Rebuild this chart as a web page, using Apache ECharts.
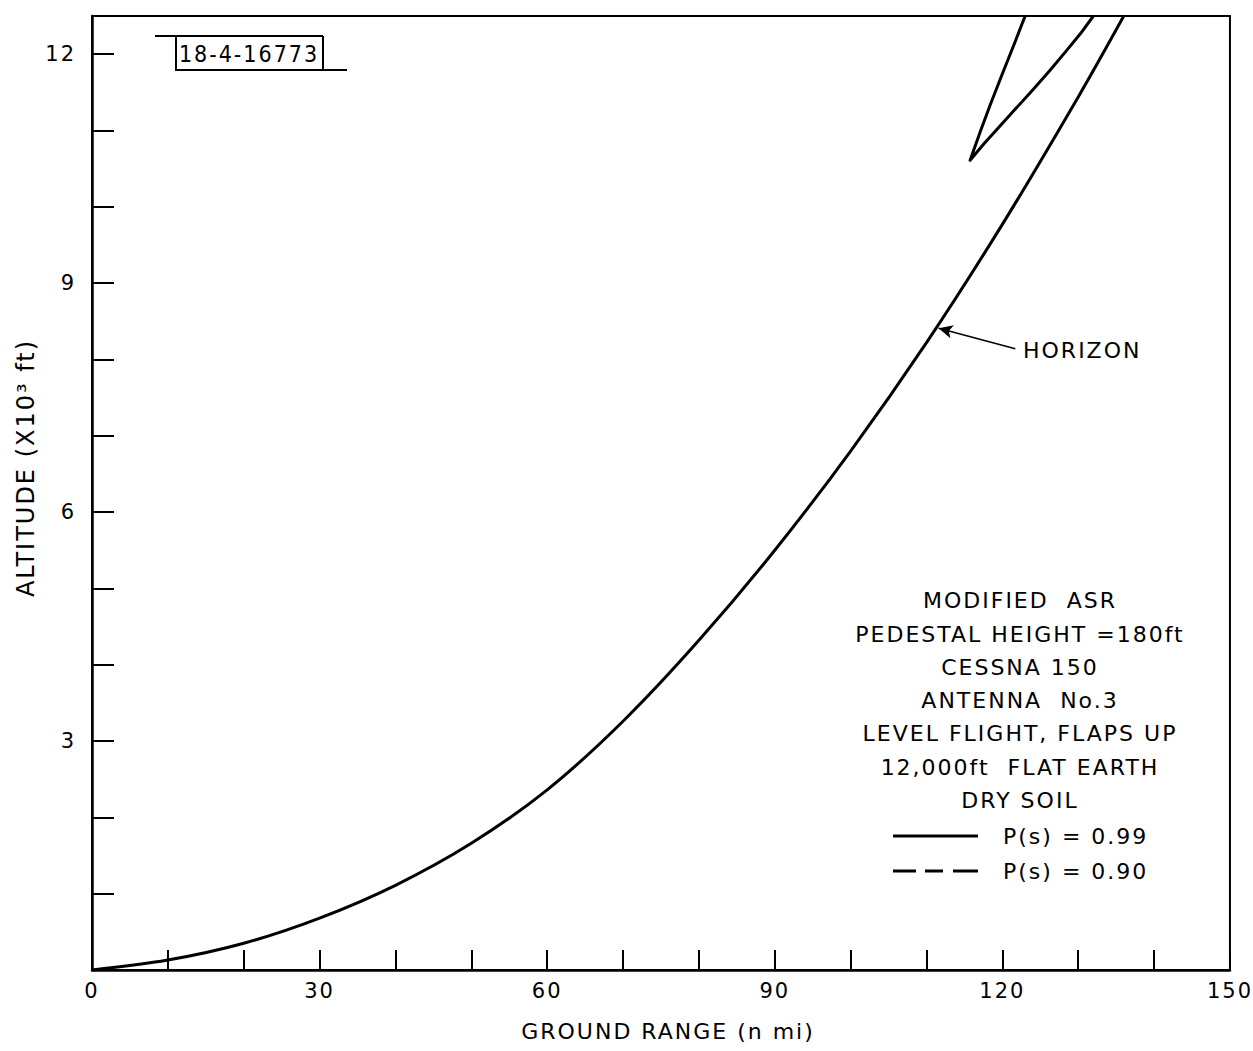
<!DOCTYPE html>
<html>
<head>
<meta charset="utf-8">
<script src="https://cdn.jsdelivr.net/npm/echarts@6/dist/echarts.min.js"></script>
<style>
html,body{margin:0;padding:0;background:#fff;}
#chart{width:1253px;height:1051px;}
#chart text{letter-spacing:2px;}
</style>
</head>
<body>
<div id="chart"></div>
<script>
// ---- data (ground range in n mi, altitude in 10^3 ft) ----
var horizonRange = [0, 10, 20, 30, 40, 50, 60, 70, 80, 90, 100, 110, 120, 130, 136];
var horizonAlt   = [0, 0.13, 0.35, 0.68, 1.11, 1.66, 2.36, 3.26, 4.32, 5.50, 6.80, 8.22, 9.77, 11.44, 12.5];
var lobe99Range  = [123.0, 121.67, 119.91, 118.38, 117.07, 115.75, 117.6, 119.6, 121.8, 124.0, 126.2, 128.4, 130.3, 132.0];
var lobe99Alt    = [12.5, 12.16, 11.72, 11.33, 10.98, 10.61, 10.83, 11.05, 11.29, 11.53, 11.78, 12.04, 12.27, 12.5];
var lobe90Range  = [];
var lobe90Alt    = [];
var xTickLabels  = [0, 30, 60, 90, 120, 150];
var yTickLabels  = [3, 6, 9, 12];
var horizonArrowFrom = [121.7, 8.14];
var horizonArrowTo   = [111.6, 8.41];
var notes = ['MODIFIED  ASR', 'PEDESTAL HEIGHT =180ft', 'CESSNA 150', 'ANTENNA  No.3', 'LEVEL FLIGHT, FLAPS UP', '12,000ft  FLAT EARTH', 'DRY SOIL'];
var figId = '18-4-16773';

function pairs(xs, ys){ return xs.map(function(x,i){ return [x, ys[i]]; }); }

var FONT = 'DejaVu Sans';
var chart = echarts.init(document.getElementById('chart'), null, {renderer:'svg'});

var graphics = [];
var noteY = [600, 634, 667, 700, 733, 767, 800];
notes.forEach(function(t, i){
  graphics.push({type:'text', x:1020, y:noteY[i],
    style:{text:t, fill:'#000', font:'22px "'+FONT+'"', textAlign:'center', textVerticalAlign:'middle'}});
});
// figure id box
graphics.push({type:'polyline', shape:{points:[[155,36],[323,36]]}, style:{stroke:'#000', lineWidth:2}});
graphics.push({type:'polyline', shape:{points:[[176,36],[176,70],[347,70]]}, style:{stroke:'#000', lineWidth:2}});
graphics.push({type:'polyline', shape:{points:[[323,36],[323,70]]}, style:{stroke:'#000', lineWidth:2}});
graphics.push({type:'text', x:249, y:54, style:{text:figId, fill:'#000', font:'23px "DejaVu Sans Condensed", "'+FONT+'"', textAlign:'center', textVerticalAlign:'middle'}});

var solidIcon  = 'path://M0,0h85v3h-85z';
var dashedIcon = 'path://M0,0h23v3h-23z M32,0h18v3h-18z M60,0h25v3h-25z';

var option = {
  animation:false,
  backgroundColor:'#fff',
  textStyle:{fontFamily:FONT, color:'#000'},
  grid:{left:92, right:21, top:16, bottom:81, show:true, borderColor:'#000', borderWidth:2},
  xAxis:{
    type:'value', min:0, max:150, interval:10,
    name:'GROUND RANGE (n mi)', nameLocation:'middle', nameGap:50,
    nameTextStyle:{fontSize:22, color:'#000', fontFamily:FONT, padding:[0,0,0,14]},
    axisLine:{show:true, onZero:false, lineStyle:{color:'#000', width:2.5}},
    axisTick:{show:true, inside:true, length:20, lineStyle:{color:'#000', width:2}},
    axisLabel:{fontSize:21, color:'#000', margin:10, fontFamily:FONT,
      formatter:function(v){ return xTickLabels.indexOf(v) >= 0 ? String(v) : ''; }},
    splitLine:{show:false}
  },
  yAxis:{
    type:'value', min:0, max:12.5, interval:1,
    name:'ALTITUDE (X10³ ft)', nameLocation:'middle', nameGap:42, nameRotate:90,
    nameTextStyle:{fontSize:24, color:'#000', fontFamily:FONT, padding:[0,0,0,50]},
    axisLine:{show:true, onZero:false, lineStyle:{color:'#000', width:2.5}},
    axisTick:{show:true, inside:true, length:22, lineStyle:{color:'#000', width:2}},
    axisLabel:{fontSize:21, color:'#000', margin:16, fontFamily:FONT, showMaxLabel:false,
      formatter:function(v){ return yTickLabels.indexOf(v) >= 0 ? String(v) : ''; }},
    splitLine:{show:false}
  },
  legend:{
    data:[{name:'P(s) = 0.99', icon:solidIcon}, {name:'P(s) = 0.90', icon:dashedIcon}],
    orient:'vertical', left:888, top:819, itemWidth:85, itemHeight:3, itemGap:11,
    itemStyle:{color:'#000', borderWidth:0},
    textStyle:{fontSize:22, color:'#000', fontFamily:FONT, padding:[0,0,0,20], lineHeight:24},
    selectedMode:false
  },
  series:[
    {
      name:'HORIZON', type:'line', data:pairs(horizonRange, horizonAlt), smooth:0.35,
      symbol:'none', lineStyle:{color:'#000', width:3}, clip:true,
      markLine:{
        silent:true, symbol:['none','arrow'], symbolSize:[10,14],
        lineStyle:{color:'#000', width:1.6, type:'solid'},
        label:{show:true, position:'start', formatter:'HORIZON', fontSize:22, color:'#000', fontFamily:FONT, distance:8},
        data:[[{coord:horizonArrowFrom}, {coord:horizonArrowTo}]]
      }
    },
    {
      name:'P(s) = 0.99', type:'line', data:pairs(lobe99Range, lobe99Alt), smooth:false,
      symbol:'none', lineStyle:{color:'#000', width:3, join:'round'}, itemStyle:{color:'#000'}, clip:true
    },
    {
      name:'P(s) = 0.90', type:'line', data:pairs(lobe90Range, lobe90Alt),
      symbol:'none', lineStyle:{color:'#000', width:3, type:[18,10]}, itemStyle:{color:'#000'}
    }
  ],
  graphic:graphics
};
chart.setOption(option);
</script>
</body>
</html>
